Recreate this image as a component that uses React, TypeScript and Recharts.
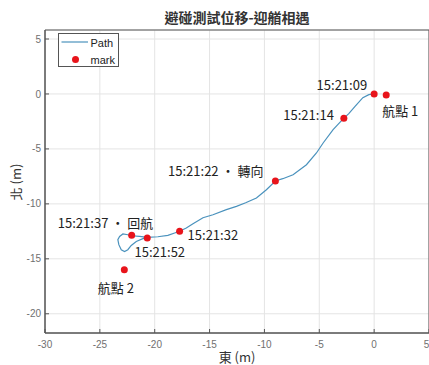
import React from 'react';
import { ScatterChart, Scatter, XAxis, YAxis, CartesianGrid, ReferenceArea, Legend } from 'recharts';

// track of own ship, east / north offsets in metres
const pathEast = [
  0, -0.48, -1.03, -1.76, -2.31, -2.76, -3.74, -4.65, -5.26, -6.17, -7.39, -8.33, -9.0,
  -9.82, -10.73, -11.71, -12.55, -13.47, -14.69, -15.6, -16.51, -17.12, -17.73, -18.18,
  -18.8, -19.71, -20.65, -21.38, -22.14, -22.45, -22.9, -23.2, -23.36, -23.27, -23.05,
  -22.75, -22.45, -22.14, -21.68, -21.08, -20.68,
];
const pathNorth = [
  0, -0.06, -0.34, -1.16, -1.79, -2.2, -3.25, -4.46, -5.37, -6.44, -7.35, -7.71, -7.92,
  -8.71, -9.47, -9.9, -10.23, -10.53, -10.99, -11.26, -11.81, -12.2, -12.49, -12.65,
  -12.87, -12.99, -13.04, -12.96, -12.9, -12.81, -12.74, -12.96, -13.26, -13.71, -14.17,
  -14.33, -14.17, -13.78, -13.42, -13.17, -13.1,
];

// time stamps and waypoints
const markNames = ['15:21:09', '航點 1', '15:21:14', '15:21:22 · 轉向', '15:21:32', '15:21:37 · 回航', '15:21:52', '航點 2'];
const markEast = [0, 1.1, -2.76, -9.0, -17.73, -22.1, -20.68, -22.77];
const markNorth = [0, -0.1, -2.2, -7.92, -12.49, -12.85, -13.1, -16.0];

const xTicks = [-30, -25, -20, -15, -10, -5, 0, 5];
const yTicks = [-20, -15, -10, -5, 0, 5];
const xDomain = [-30, 5];
const yDomain = [-21.75, 5.82];

const PATH_BLUE = '#4a92bd';
const MARK_RED = '#e8141b';
const CJK_FONT = '"Noto Sans CJK TC", "Noto Sans", sans-serif';
const TICK_FONT = '"Liberation Sans", Arial, sans-serif';

const pathData = pathEast.map((x, i) => ({ x, y: pathNorth[i] }));
const markData = markNames.map((name, i) => ({ name, x: markEast[i], y: markNorth[i] }));

// where each annotation sits relative to its dot
const labelPlacement: Record<string, { dx: number; dy: number; anchor: 'start' | 'middle' | 'end' }> = {
  '15:21:09': { dx: -7, dy: -9, anchor: 'end' },
  '航點 1': { dx: -4, dy: 15, anchor: 'start' },
  '15:21:14': { dx: -10, dy: -3.5, anchor: 'end' },
  '15:21:22 · 轉向': { dx: -12, dy: -10.5, anchor: 'end' },
  '15:21:32': { dx: 8, dy: 3.5, anchor: 'start' },
  '15:21:37 · 回航': { dx: 21.5, dy: -13, anchor: 'end' },
  '15:21:52': { dx: -12.7, dy: 13.4, anchor: 'start' },
  '航點 2': { dx: -8.5, dy: 17.7, anchor: 'middle' },
};

const MarkShape = (props: any) => {
  const { cx, cy, payload } = props;
  const p = labelPlacement[payload.name];
  return (
    <g>
      <circle cx={cx} cy={cy} r={3.5} fill={MARK_RED} />
      <text
        x={cx + p.dx}
        y={cy + p.dy}
        textAnchor={p.anchor}
        dominantBaseline="central"
        fontSize={13}
        fontFamily={CJK_FONT}
        fill="#222"
      >
        {payload.name}
      </text>
    </g>
  );
};

const LegendBox = () => (
  <div style={{ width: 59, height: 32, border: '1px solid #555', background: '#fff' }}>
    <svg width={59} height={32} style={{ display: 'block' }} fontFamily={TICK_FONT} fontSize={11}>
      <line x1={2.5} y1={8} x2={29} y2={8} stroke={PATH_BLUE} strokeWidth={1.2} />
      <text x={31.5} y={8.5} dominantBaseline="central" fill="#222">Path</text>
      <circle cx={16.5} cy={25.5} r={3.5} fill={MARK_RED} />
      <text x={31.5} y={25.5} dominantBaseline="central" fill="#222">mark</text>
    </svg>
  </div>
);

const tickStyle = { fill: '#707070', fontSize: 10, fontFamily: TICK_FONT };

export default function App() {
  return (
    <div style={{ position: 'absolute', left: 0, top: 0, width: 429, height: 365, overflow: 'hidden', background: '#fff' }}>
      <div
        style={{
          position: 'absolute', left: 45, top: 7, width: 384, textAlign: 'center',
          fontFamily: CJK_FONT, fontSize: 14, fontWeight: 'bold', lineHeight: '20px', color: '#333',
        }}
      >
        避碰測試位移-迎艏相遇
      </div>
      <ScatterChart width={429} height={365} margin={{ top: 30, right: 0, bottom: 0, left: 0 }}>
        <CartesianGrid stroke="#e4e4e4" strokeWidth={1} />
        <XAxis
          type="number"
          dataKey="x"
          domain={xDomain}
          ticks={xTicks}
          allowDataOverflow
          height={32}
          tickSize={-4}
          tickMargin={12}
          axisLine={{ stroke: '#555' }}
          tickLine={{ stroke: '#555' }}
          tick={tickStyle}
        />
        {/* box ticks on the top and right edges */}
        <XAxis
          xAxisId="top"
          orientation="top"
          type="number"
          domain={xDomain}
          ticks={xTicks}
          allowDataOverflow
          height={0}
          tickSize={-4}
          axisLine={false}
          tickLine={{ stroke: '#555' }}
          tick={false}
        />
        <YAxis
          type="number"
          dataKey="y"
          domain={yDomain}
          ticks={yTicks}
          allowDataOverflow
          width={45}
          tickSize={-4}
          tickMargin={8}
          axisLine={{ stroke: '#555' }}
          tickLine={{ stroke: '#555' }}
          tick={tickStyle}
        />
        <YAxis
          yAxisId="right"
          orientation="right"
          type="number"
          domain={yDomain}
          ticks={yTicks}
          allowDataOverflow
          width={0}
          tickSize={-4}
          axisLine={false}
          tickLine={{ stroke: '#555' }}
          tick={false}
        />
        <ReferenceArea x1={xDomain[0]} x2={xDomain[1]} y1={yDomain[0]} y2={yDomain[1]} fill="none" stroke="#555" strokeWidth={1} />
        <Scatter
          name="Path"
          data={pathData}
          line={{ stroke: PATH_BLUE, strokeWidth: 1.2 }}
          lineType="joint"
          shape={() => <g />}
          isAnimationActive={false}
        />
        <Scatter name="mark" data={markData} shape={MarkShape} isAnimationActive={false} />
        <Legend
          layout="vertical"
          align="center"
          verticalAlign="middle"
          content={() => <LegendBox />}
          wrapperStyle={{ position: 'absolute', left: 58, top: 33, width: 61, height: 34 }}
        />
      </ScatterChart>
      <div
        style={{
          position: 'absolute', left: 237, top: 356, transform: 'translate(-50%, -50%)',
          fontFamily: CJK_FONT, fontSize: 13, lineHeight: '15px', color: '#333', whiteSpace: 'nowrap',
        }}
      >
        東 (m)
      </div>
      <div
        style={{
          position: 'absolute', left: 15, top: 181.5, transform: 'translate(-50%, -50%) rotate(-90deg)',
          fontFamily: CJK_FONT, fontSize: 13, color: '#333', whiteSpace: 'nowrap',
        }}
      >
        北 (m)
      </div>
    </div>
  );
}
